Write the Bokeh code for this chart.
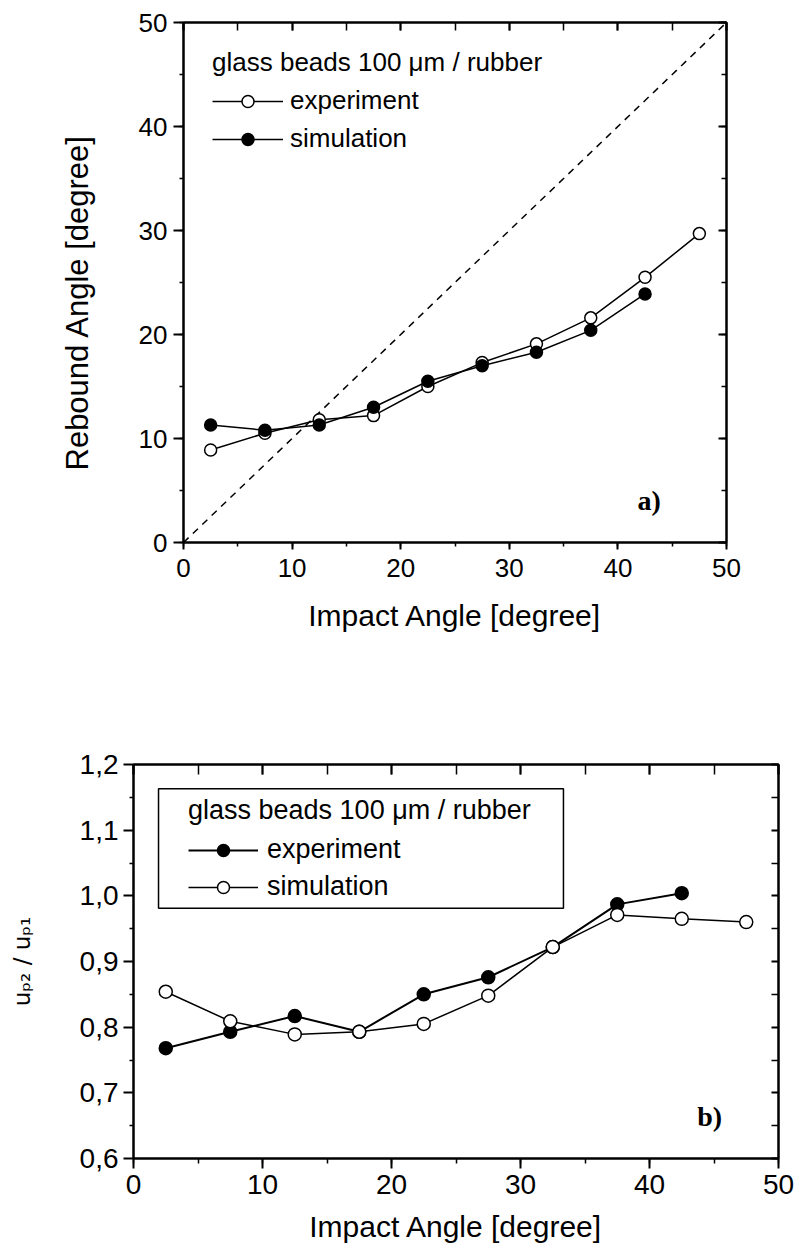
from bokeh.plotting import figure
from bokeh.models import (LinearAxis, SingleIntervalTicker, FixedTicker, Legend, LegendItem,
                          Label, Title, CustomJSTickFormatter, BoxAnnotation, Range1d)
from bokeh.embed import file_html
from bokeh.resources import INLINE

# ---------------- data ----------------
impact_angle = [2.5, 7.5, 12.5, 17.5, 22.5, 27.5, 32.5, 37.5, 42.5, 47.5]

# panel a) rebound angle [degree]
rebound_experiment = [8.9, 10.5, 11.8, 12.2, 15.0, 17.3, 19.1, 21.6, 25.5, 29.7]
rebound_simulation = [11.3, 10.8, 11.3, 13.0, 15.5, 17.0, 18.3, 20.4, 23.9]

# panel b) velocity ratio u_p2 / u_p1
ratio_experiment = [0.768, 0.793, 0.817, 0.793, 0.850, 0.876, 0.922, 0.987, 1.004]
ratio_simulation = [0.854, 0.809, 0.789, 0.793, 0.805, 0.848, 0.922, 0.971, 0.965, 0.960]

diagonal = [0, 50]

ratio_ticks = [0.6, 0.7, 0.8, 0.9, 1.0, 1.1, 1.2]
ratio_minor_ticks = [0.65, 0.75, 0.85, 0.95, 1.05, 1.15]

legend_title = "glass beads 100 \u03bcm / rubber"
series_names = ["experiment", "simulation"]
ylabel_a = "Rebound Angle [degree]"
ylabel_b = "u\u209a\u2082 / u\u209a\u2081"
xlabel = "Impact Angle [degree]"

FONT = "Liberation Sans"
SERIF = "Liberation Serif"


def style_main_axes(p, xticker, yticker, xfmt=None, yfmt=None, tick_font="26px",
                    x_tick_out=7, x_minor_out=4, y_tick_out=10, y_minor_out=4,
                    x_std=6, y_std=6):
    xa = p.xaxis[0]
    ya = p.yaxis[0]
    xa.ticker = xticker
    ya.ticker = yticker
    if xfmt is not None:
        xa.formatter = xfmt
    if yfmt is not None:
        ya.formatter = yfmt
    for ax, mo, mi, std in ((xa, x_tick_out, x_minor_out, x_std),
                            (ya, y_tick_out, y_minor_out, y_std)):
        ax.axis_line_width = 2
        ax.axis_line_color = "black"
        ax.major_tick_line_width = 2
        ax.minor_tick_line_width = 1.5
        ax.major_tick_line_color = "black"
        ax.minor_tick_line_color = "black"
        ax.major_tick_out = mo
        ax.major_tick_in = 0
        ax.minor_tick_out = mi
        ax.minor_tick_in = 0
        ax.major_label_text_font = FONT
        ax.major_label_text_font_size = tick_font
        ax.major_label_text_color = "black"
        ax.major_label_standoff = std
        ax.axis_label_text_font = FONT
        ax.axis_label_text_font_style = "normal"
        ax.axis_label_text_color = "black"


def add_frame_axes(p, xticker, yticker, top_in, top_minor_in, right_in, right_minor_in):
    blank = "return ''"
    top = LinearAxis(ticker=xticker,
                     formatter=CustomJSTickFormatter(code=blank),
                     major_tick_in=top_in, major_tick_out=0,
                     minor_tick_in=top_minor_in, minor_tick_out=0,
                     major_label_text_font_size="0px", major_label_standoff=0,
                     axis_line_width=2, major_tick_line_width=2,
                     minor_tick_line_width=1.5)
    right = LinearAxis(ticker=yticker,
                       formatter=CustomJSTickFormatter(code=blank),
                       major_tick_in=right_in, major_tick_out=0,
                       minor_tick_in=right_minor_in, minor_tick_out=0,
                       major_label_text_font_size="0px", major_label_standoff=0,
                       axis_line_width=2, major_tick_line_width=2,
                       minor_tick_line_width=1.5)
    p.add_layout(top, "above")
    p.add_layout(right, "right")


def base_figure(**kw):
    p = figure(output_backend="svg", toolbar_location=None, **kw)
    p.xgrid.visible = False
    p.ygrid.visible = False
    p.outline_line_color = "black"
    p.outline_line_width = 2
    p.background_fill_color = "white"
    p.border_fill_color = "white"
    return p


def make_legend(items, loc, fs, spacing, standoff, gw, lstd):
    return Legend(items=items, title=legend_title, location=loc,
                  padding=0, margin=0, spacing=spacing, title_standoff=standoff,
                  glyph_width=gw, glyph_height=30, label_height=30,
                  label_standoff=lstd,
                  border_line_color=None, background_fill_alpha=0,
                  label_text_font=FONT, label_text_font_size=fs,
                  label_text_color="black",
                  title_text_font=FONT, title_text_font_size=fs,
                  title_text_color="black", title_text_font_style="normal")


def int_ticker(step):
    return SingleIntervalTicker(interval=step, num_minor_ticks=2)


def ratio_ticker():
    return FixedTicker(ticks=ratio_ticks, minor_ticks=ratio_minor_ticks)


# ---------------- panel a) ----------------
pa = base_figure(frame_width=543, frame_height=520,
                 x_range=Range1d(0, 50), y_range=Range1d(0, 50),
                 min_border_left=183, min_border_right=72,
                 min_border_top=22, min_border_bottom=158)
style_main_axes(pa, int_ticker(10), int_ticker(10), tick_font="26px",
                x_tick_out=7, x_minor_out=4, y_tick_out=10, y_minor_out=4,
                x_std=9, y_std=6)
pa.xaxis[0].axis_label = xlabel
pa.xaxis[0].axis_label_text_font_size = "30px"
pa.xaxis[0].axis_label_standoff = 19
add_frame_axes(pa, int_ticker(10), int_ticker(10), 8, 8, 8, 5)

pa.add_layout(Title(text=ylabel_a, align="left", offset=72, standoff=82,
                    text_font=FONT, text_font_size="31px",
                    text_font_style="normal", text_color="black"), "left")

pa.line(diagonal, diagonal, line_color="black", line_width=1.5, line_dash="7 6")

la_exp = pa.line(impact_angle, rebound_experiment, line_color="black", line_width=1.5)
sa_exp = pa.scatter(impact_angle, rebound_experiment, marker="circle", size=12,
                    fill_color="white", line_color="black", line_width=1.5)
sim_x_a = impact_angle[:len(rebound_simulation)]
la_sim = pa.line(sim_x_a, rebound_simulation, line_color="black", line_width=1.5)
sa_sim = pa.scatter(sim_x_a, rebound_simulation, marker="circle", size=12,
                    fill_color="black", line_color="black", line_width=1.5)

pa.add_layout(make_legend(
    [LegendItem(label=series_names[0], renderers=[la_exp, sa_exp]),
     LegendItem(label=series_names[1], renderers=[la_sim, sa_sim])],
    (29, 388), "26px", 7, 7, 71, 7))

pa.add_layout(Label(x=41.8, y=4.04, text="a)", text_font=SERIF,
                    text_font_style="bold", text_font_size="28px",
                    text_color="black", text_align="left",
                    text_baseline="alphabetic"))

# ---------------- panel b) ----------------
comma_fmt = CustomJSTickFormatter(code="return tick.toFixed(1).replace('.', ',');")
pb = base_figure(frame_width=645, frame_height=394,
                 x_range=Range1d(0, 50), y_range=Range1d(0.6, 1.2),
                 min_border_left=133, min_border_right=20,
                 min_border_top=64, min_border_bottom=94)
style_main_axes(pb, int_ticker(10), ratio_ticker(), yfmt=comma_fmt, tick_font="28px",
                x_tick_out=10, x_minor_out=5, y_tick_out=10, y_minor_out=4,
                x_std=6, y_std=5)
pb.xaxis[0].axis_label = xlabel
pb.xaxis[0].axis_label_text_font_size = "30px"
pb.xaxis[0].axis_label_standoff = 13
pb.yaxis[0].axis_label = ylabel_b
pb.yaxis[0].axis_label_text_font = "DejaVu Sans"
pb.yaxis[0].axis_label_text_font_size = "23px"
pb.yaxis[0].axis_label_standoff = 42
add_frame_axes(pb, int_ticker(10), ratio_ticker(), 10, 10, 7, 7)

pb.add_layout(BoxAnnotation(left=1.94, right=33.33, bottom=0.981, top=1.163,
                            fill_alpha=0, line_color="black", line_alpha=1,
                            line_width=1.5))

exp_x_b = impact_angle[:len(ratio_experiment)]
lb_exp = pb.line(exp_x_b, ratio_experiment, line_color="black", line_width=2)
sb_exp = pb.scatter(exp_x_b, ratio_experiment, marker="circle", size=13,
                    fill_color="black", line_color="black", line_width=1.5)
lb_sim = pb.line(impact_angle, ratio_simulation, line_color="black", line_width=1.5)
sb_sim = pb.scatter(impact_angle, ratio_simulation, marker="circle", size=13,
                    fill_color="white", line_color="black", line_width=1.5)

pb.add_layout(make_legend(
    [LegendItem(label=series_names[0], renderers=[lb_exp, sb_exp]),
     LegendItem(label=series_names[1], renderers=[lb_sim, sb_sim])],
    (55, 256), "27px", 6, 8, 70, 9))

pb.add_layout(Label(x=43.7, y=0.664, text="b)", text_font=SERIF,
                    text_font_style="bold", text_font_size="28px",
                    text_color="black", text_align="left",
                    text_baseline="alphabetic"))

open("out.html", "w").write(file_html([pa, pb], INLINE))
